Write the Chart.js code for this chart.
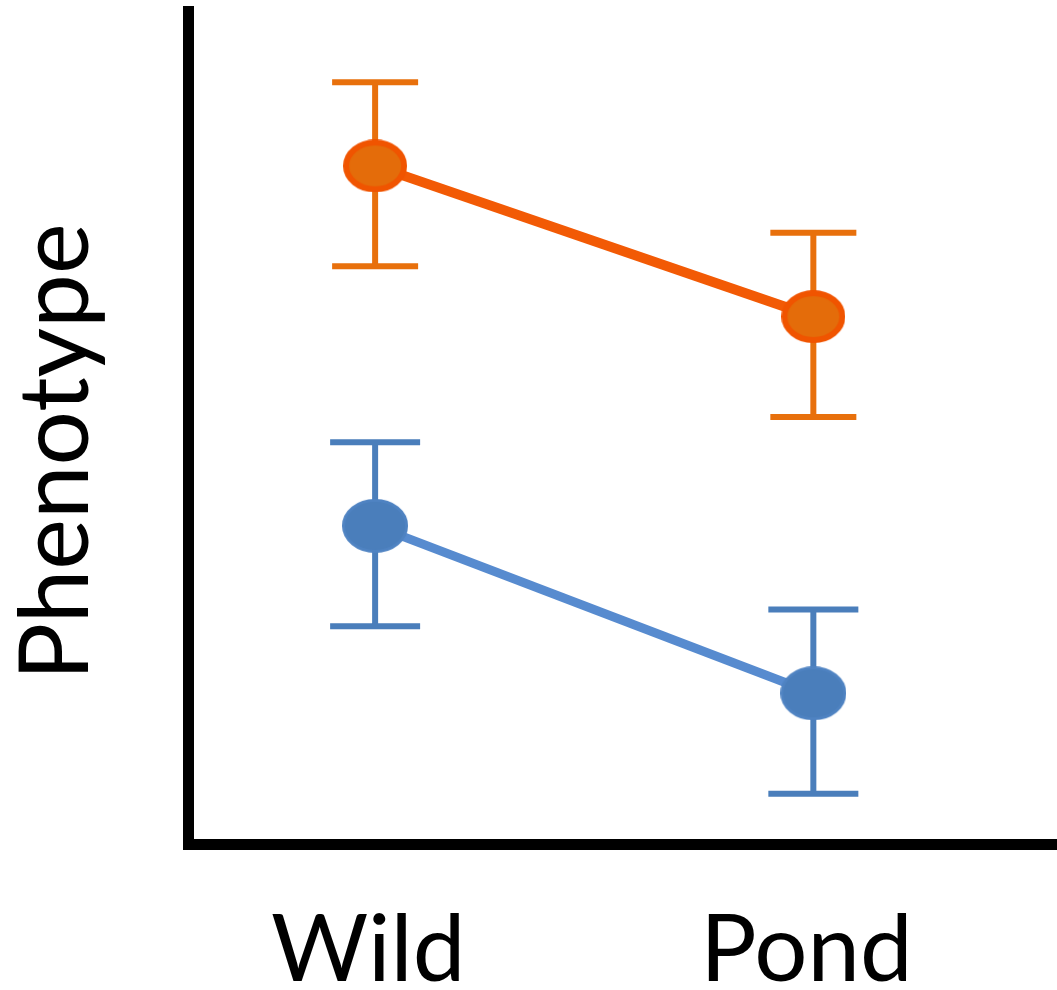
<!DOCTYPE html>
<html>
<head>
<meta charset="utf-8">
<script src="https://cdn.jsdelivr.net/npm/chart.js@4"></script>
<style>
  html, body { margin: 0; padding: 0; background: #fff; }
  #wrap { width: 1057px; height: 990px; }
</style>
</head>
<body>
<div id="wrap"><canvas id="myChart"></canvas></div>
<script>
// data
const categories = ['Wild', 'Pond'];
const xVals = [0, 1];
const orangeMean = [8.1, 6.3];
const orangeHigh = [9.1, 7.3];
const orangeLow = [6.9, 5.1];
const blueMean = [3.8, 1.8];
const blueHigh = [4.8, 2.8];
const blueLow = [2.6, 0.6];

const FONT = 'Lato';

// ellipse marker as a small canvas
function makeEllipse(w, h, fill, stroke, sw) {
  const c = document.createElement('canvas');
  c.width = w;
  c.height = h;
  const g = c.getContext('2d');
  g.beginPath();
  g.ellipse(w / 2, h / 2, w / 2 - sw / 2, h / 2 - sw / 2, 0, 0, Math.PI * 2);
  g.fillStyle = fill;
  g.fill();
  if (sw > 0) {
    g.lineWidth = sw;
    g.strokeStyle = stroke;
    g.stroke();
  }
  return c;
}

const orangeDot = makeEllipse(64, 53, '#E46C0A', '#F05400', 6);
const blueDot = makeEllipse(66, 54, '#4A7EBB', '#4F83C2', 3);

function toPoints(means) {
  return xVals.map((x, i) => ({ x: x, y: means[i] }));
}

// error bars drawn under the lines and markers
const errorBars = {
  id: 'errorBars',
  beforeDatasetsDraw(chart) {
    const ctx = chart.ctx;
    const xs = chart.scales.x;
    const ys = chart.scales.y;
    chart.data.datasets.forEach(ds => {
      ctx.save();
      ctx.strokeStyle = ds.errColor;
      ctx.lineWidth = 6;
      for (let i = 0; i < xVals.length; i++) {
        const px = xs.getPixelForValue(xVals[i]);
        const top = ys.getPixelForValue(ds.errHigh[i]);
        const bot = ys.getPixelForValue(ds.errLow[i]);
        ctx.beginPath();
        ctx.moveTo(px, top);
        ctx.lineTo(px, bot);
        ctx.moveTo(px - ds.capHalf, top);
        ctx.lineTo(px + ds.capHalf, top);
        ctx.moveTo(px - ds.capHalf, bot);
        ctx.lineTo(px + ds.capHalf, bot);
        ctx.stroke();
      }
      ctx.restore();
    });
  }
};

// rotated y title
const yTitle = {
  id: 'yTitle',
  afterDraw(chart) {
    const ctx = chart.ctx;
    ctx.save();
    ctx.translate(88, 452);
    ctx.rotate(-Math.PI / 2);
    ctx.font = '96px ' + FONT;
    ctx.fillStyle = '#000';
    ctx.textAlign = 'center';
    ctx.textBaseline = 'alphabetic';
    ctx.fillText('Phenotype', 0, 0);
    ctx.restore();
  }
};

new Chart(document.getElementById('myChart'), {
  type: 'line',
  data: {
    datasets: [
      {
        data: toPoints(orangeMean),
        errHigh: orangeHigh,
        errLow: orangeLow,
        errColor: '#E8700C',
        capHalf: 43,
        borderColor: '#F25A05',
        borderWidth: 10,
        pointStyle: orangeDot
      },
      {
        data: toPoints(blueMean),
        errHigh: blueHigh,
        errLow: blueLow,
        errColor: '#4A7EBB',
        capHalf: 45,
        borderColor: '#578BCF',
        borderWidth: 9,
        pointStyle: blueDot
      }
    ]
  },
  options: {
    responsive: true,
    maintainAspectRatio: false,
    animation: false,
    events: [],
    layout: { autoPadding: false, padding: { top: 11, right: 0, left: 0, bottom: 0 } },
    plugins: {
      legend: { display: false },
      tooltip: { enabled: false }
    },
    scales: {
      x: {
        type: 'linear',
        min: -0.427,
        max: 1.556,
        grid: { display: false },
        border: { display: true, color: '#000', width: 11 },
        afterBuildTicks(scale) {
          scale.ticks = xVals.map(v => ({ value: v }));
        },
        afterFit(scale) { scale.height = 146; },
        ticks: {
          color: '#000',
          padding: 42,
          labelOffset: -7,
          maxRotation: 0,
          autoSkip: false,
          font: { family: FONT, size: 94 },
          callback: (v) => categories[v]
        }
      },
      y: {
        min: 0,
        max: 9.95,
        grid: { display: false },
        border: { display: true, color: '#000', width: 11 },
        ticks: { display: false },
        afterFit(scale) { scale.width = 188; }
      }
    }
  },
  plugins: [errorBars, yTitle]
});
</script>
</body>
</html>
